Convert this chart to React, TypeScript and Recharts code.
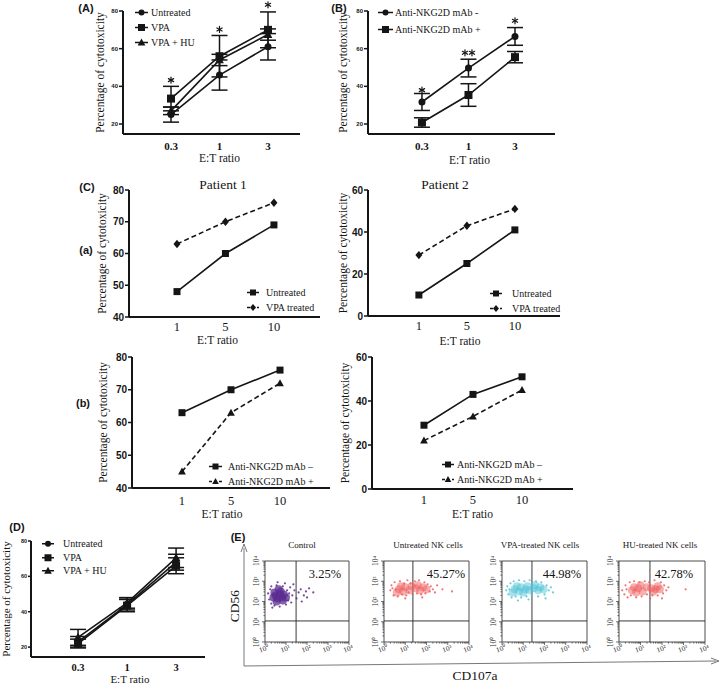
import React from 'react';
import {
  LineChart,
  Line,
  XAxis,
  YAxis,
  ErrorBar,
  Legend,
  ReferenceDot,
  ScatterChart,
  Scatter,
  ReferenceLine,
  ReferenceArea,
} from 'recharts';

const SERIF = '"Liberation Serif", "Times New Roman", serif';
const SANS = '"Liberation Sans", Arial, sans-serif';
const INK = '#151515';

// ---- categories ----
const ratiosLow = ['0.3', '1', '3'];
const ratiosHigh = ['1', '5', '10'];

// ---- (A) mean / SD ----
const aUntreated = [25, 46, 61];
const aUntreatedSd = [4, 8, 7];
const aVpa = [33.5, 56, 70];
const aVpaSd = [6.5, 11, 9.5];
const aVpaHu = [27, 54, 67.5];
const aVpaHuSd = [2, 3, 3];
const aStars = [1, 1, 1];
const aStarLevel = [43.3, 70.2, 83.3];

// ---- (B) ----
const bMabMinus = [31.7, 49.7, 66.5];
const bMabMinusSd = [4.5, 4.7, 4.7];
const bMabPlus = [20.8, 35.4, 55.5];
const bMabPlusSd = [2.5, 6, 3];
const bStars = [1, 2, 1];
const bStarLevel = [38, 57.8, 74.8];

// ---- (C) a ----
const p1Untreated = [48, 60, 69];
const p1Vpa = [63, 70, 76];
const p2Untreated = [10, 25, 41];
const p2Vpa = [29, 43, 51];
// ---- (C) b ----
const p1MabMinus = [63, 70, 76];
const p1MabPlus = [45, 63, 72];
const p2MabMinus = [29, 43, 51];
const p2MabPlus = [22, 33, 45];

// ---- (D) ----
const dUntreated = [23, 44, 68];
const dUntreatedSd = [3, 3, 4.5];
const dVpa = [22, 43.5, 66];
const dVpaSd = [2.5, 3.5, 4.5];
const dVpaHu = [25.5, 45, 70.5];
const dVpaHuSd = [4.5, 3, 5.5];

// ---- (E) flow cytometry, log10 units ----
const decadeLabels = ['10⁰', '10¹', '10²', '10³', '10⁴'];
const flowTitles = ['Control', 'Untreated NK cells', 'VPA-treated NK cells', 'HU-treated NK cells'];
const flowPercent = ['3.25%', '45.27%', '44.98%', '42.78%'];
const flowGateX = [1.48, 1.36, 1.41, 1.44];
const flowGateY = 1.04;
const flowColors = ['#5b2c90', '#ef5d5d', '#4fc4d8', '#ef5d5d'];

const controlCore = [
  [0.5, 2.3], [0.7, 2.35], [0.6, 2.15], [0.8, 2.2], [0.45, 2.45], [0.75, 2.5],
  [0.9, 2.35], [0.55, 2.0], [0.85, 2.05], [0.4, 2.2], [1.0, 2.2], [0.65, 2.6],
];
const controlSpread = [
  [0.15, 2.4], [0.2, 2.1], [0.25, 2.6], [0.3, 1.9], [0.3, 2.75], [0.45, 1.8], [0.55, 2.8],
  [0.7, 1.75], [0.85, 2.75], [1.0, 1.85], [1.05, 2.55], [1.1, 2.05], [1.15, 2.4], [1.2, 2.7],
  [1.25, 1.95], [1.3, 2.3], [1.4, 2.55], [1.5, 2.15], [1.6, 2.45], [1.7, 2.6], [1.85, 2.3],
  [1.95, 2.5], [2.1, 2.65], [2.3, 2.45], [0.95, 2.9], [0.6, 2.95], [0.35, 1.7], [1.35, 2.85],
  [1.75, 2.0], [2.0, 2.2],
];
const untreatedCore = [
  [0.7, 2.6], [0.9, 2.5], [1.0, 2.7], [0.8, 2.75], [1.2, 2.55], [1.5, 2.65],
  [1.7, 2.55], [1.85, 2.7], [1.6, 2.8], [2.0, 2.6], [1.3, 2.75], [0.6, 2.45],
];
const untreatedSpread = [
  [0.3, 2.55], [0.35, 2.8], [0.45, 2.3], [0.5, 2.95], [0.55, 2.6], [0.65, 2.25], [0.75, 3.0],
  [0.85, 2.35], [0.95, 2.9], [1.05, 2.3], [1.1, 3.05], [1.15, 2.45], [1.25, 2.9], [1.35, 2.35],
  [1.45, 3.0], [1.55, 2.4], [1.65, 3.05], [1.75, 2.35], [1.9, 2.95], [1.95, 2.4], [2.05, 2.85],
  [2.15, 2.5], [2.2, 2.75], [2.3, 2.6], [2.4, 2.45], [2.5, 2.8], [0.4, 2.65], [1.0, 2.15],
  [1.8, 2.2], [2.75, 2.6], [3.2, 2.5],
];
const vpaCore = [
  [0.6, 2.6], [0.8, 2.5], [0.9, 2.7], [0.7, 2.75], [1.1, 2.6], [1.3, 2.55], [1.5, 2.65],
  [1.7, 2.55], [1.8, 2.7], [1.55, 2.8], [1.95, 2.6], [0.5, 2.45], [1.2, 2.75], [1.0, 2.45],
];
const vpaSpread = [
  [0.2, 2.55], [0.25, 2.75], [0.3, 2.35], [0.4, 2.9], [0.45, 2.2], [0.55, 3.0], [0.65, 2.25],
  [0.8, 3.05], [0.9, 2.2], [1.05, 3.0], [1.15, 2.25], [1.3, 3.05], [1.4, 2.3], [1.6, 3.0],
  [1.7, 2.25], [1.85, 2.95], [2.0, 2.35], [2.1, 2.8], [2.2, 2.55], [2.3, 2.7], [2.4, 2.45],
  [0.35, 2.6], [1.25, 2.1], [2.05, 2.15], [0.75, 2.05],
];
const huCore = [
  [0.6, 2.55], [0.8, 2.45], [0.9, 2.65], [0.7, 2.7], [1.1, 2.5], [1.5, 2.65],
  [1.7, 2.6], [1.8, 2.75], [1.6, 2.5], [1.9, 2.6], [1.3, 2.7], [1.0, 2.8],
];
const huSpread = [
  [0.15, 2.55], [0.25, 2.35], [0.3, 2.8], [0.4, 2.2], [0.5, 2.95], [0.55, 2.3], [0.7, 3.0],
  [0.8, 2.2], [0.95, 2.95], [1.05, 2.25], [1.2, 3.0], [1.3, 2.35], [1.4, 2.95], [1.55, 2.3],
  [1.65, 3.05], [1.8, 2.3], [1.95, 2.95], [2.05, 2.4], [2.1, 2.8], [2.2, 2.55], [2.3, 2.7],
  [0.35, 2.6], [1.45, 2.15], [2.0, 2.15], [3.1, 2.6],
];
const flowCores = [controlCore, untreatedCore, vpaCore, huCore];
const flowSpreads = [controlSpread, untreatedSpread, vpaSpread, huSpread];

type Row = Record<string, number>;
const table = (n: number, cols: Record<string, number[]>): Row[] =>
  Array.from({ length: n }, (_, i) => {
    const row: Row = { x: i };
    Object.keys(cols).forEach((k) => {
      row[k] = cols[k][i];
    });
    return row;
  });
const pts = (arr: number[][]) => arr.map(([x, y]) => ({ x, y }));
const stars = (levels: number[], counts: number[]) => levels.map((y, i) => ({ x: i, y, n: counts[i] }));

type Shape = 'circle' | 'square' | 'triangle' | 'diamond';

const Marker = ({ cx, cy, shape, size }: { cx: number; cy: number; shape: Shape; size: number }) => {
  const h = size / 2;
  if (shape === 'circle') return <circle cx={cx} cy={cy} r={h} fill={INK} />;
  if (shape === 'square') return <rect x={cx - h} y={cy - h} width={size} height={size} fill={INK} />;
  if (shape === 'triangle')
    return (
      <polygon
        points={`${cx},${cy - h * 1.15} ${cx + h * 1.1},${cy + h * 0.85} ${cx - h * 1.1},${cy + h * 0.85}`}
        fill={INK}
      />
    );
  return <polygon points={`${cx},${cy - h * 1.2} ${cx + h},${cy} ${cx},${cy + h * 1.2} ${cx - h},${cy}`} fill={INK} />;
};

const dotOf = (shape: Shape, size: number) => (p: any) =>
  <Marker key={`dot-${p.index}`} cx={p.cx} cy={p.cy} shape={shape} size={size} />;

// small asterisk drawn from strokes so it stays black
const Asterisk = ({ cx, cy }: { cx: number; cy: number }) => (
  <g stroke={INK} strokeWidth={1.2} strokeLinecap="round">
    <line x1={cx} y1={cy - 3} x2={cx} y2={cy + 3} />
    <line x1={cx - 2.6} y1={cy - 1.5} x2={cx + 2.6} y2={cy + 1.5} />
    <line x1={cx - 2.6} y1={cy + 1.5} x2={cx + 2.6} y2={cy - 1.5} />
  </g>
);

interface SeriesDef {
  key: string;
  sd?: string;
  name: string;
  shape: Shape;
  size: number;
  dashed?: boolean;
}

const LegendBox = ({ items, row, font, symW, gap }: { items: SeriesDef[]; row: number; font: number; symW: number; gap: number }) => (
  <div style={{ fontFamily: SERIF, fontSize: font, color: INK }}>
    {items.map((it) => (
      <div key={it.name} style={{ display: 'flex', alignItems: 'center', height: row, whiteSpace: 'nowrap' }}>
        <svg width={symW} height={row} style={{ flex: 'none' }}>
          <line
            x1={0}
            x2={symW}
            y1={row / 2}
            y2={row / 2}
            stroke={INK}
            strokeWidth={1.5}
            strokeDasharray={it.dashed ? '3 2' : undefined}
          />
          <Marker cx={symW / 2} cy={row / 2} shape={it.shape} size={it.size - 1} />
        </svg>
        <span style={{ marginLeft: gap }}>{it.name}</span>
      </div>
    ))}
  </div>
);

interface PanelProps {
  box: number[];
  xDomain: number[];
  yDomain: number[];
  yTicks: number[];
  cats: string[];
  data: Row[];
  series: SeriesDef[];
  marks?: { x: number; y: number; n: number }[];
  legendAt: number[];
  legendRow: number;
  legendSym: number;
  legendGap: number;
  yTickFont: number;
  yTickSize: number;
  xTickFont: number;
  xTickBold: boolean;
  xTickGap: number;
  labelFont: number;
  yLabelX: number;
  xLabelY: number;
  xLabelDx: number;
}

const LinePanel = (p: PanelProps) => {
  const [x0, y0, x1, y1] = p.box;
  const L = Math.min(50, x0);
  const T = Math.min(12, y0);
  const R = 8;
  const B = p.xLabelY - y1 + 4;
  const left = x0 - L;
  const top = y0 - T;
  const width = x1 - x0 + L + R;
  const height = y1 - y0 + T + B;
  const yLabX = p.yLabelX - left;
  const xLabY = p.xLabelY - top;
  return (
    <div style={{ position: 'absolute', left, top }}>
      <LineChart width={width} height={height} data={p.data} margin={{ top: T, right: R, left: 0, bottom: 0 }}>
        <XAxis
          type="number"
          dataKey="x"
          domain={p.xDomain}
          ticks={[0, 1, 2]}
          interval={0}
          tickFormatter={(v: number) => p.cats[v]}
          tickLine={false}
          tickSize={0}
          tickMargin={p.xTickGap}
          height={B}
          axisLine={{ stroke: INK, strokeWidth: 2 }}
          tick={{ fontSize: p.xTickFont, fontWeight: p.xTickBold ? 700 : 400, fontFamily: SERIF, fill: INK }}
          label={{
            content: ({ viewBox }: any) => (
              <text
                x={viewBox.x + viewBox.width / 2 + p.xLabelDx}
                y={xLabY}
                textAnchor="middle"
                fontFamily={SERIF}
                fontSize={p.labelFont}
                fill={INK}
              >
                E:T ratio
              </text>
            ),
          }}
        />
        <YAxis
          type="number"
          domain={p.yDomain}
          ticks={p.yTicks}
          interval={0}
          width={L}
          tickSize={p.yTickSize}
          tickMargin={1}
          axisLine={{ stroke: INK, strokeWidth: 2 }}
          tickLine={{ stroke: INK, strokeWidth: 1.5 }}
          tick={{ fontSize: p.yTickFont, fontWeight: 700, fontFamily: SANS, fill: INK }}
          label={{
            content: ({ viewBox }: any) => {
              const cy = viewBox.y + viewBox.height / 2;
              return (
                <text
                  x={yLabX}
                  y={cy}
                  transform={`rotate(-90 ${yLabX} ${cy})`}
                  textAnchor="middle"
                  dominantBaseline="central"
                  fontFamily={SERIF}
                  fontSize={p.labelFont}
                  fill={INK}
                >
                  Percentage of cytotoxicity
                </text>
              );
            },
          }}
        />
        {p.series.map((s) => (
          <Line
            key={s.key}
            dataKey={s.key}
            type="linear"
            stroke={INK}
            strokeWidth={1.6}
            strokeDasharray={s.dashed ? '5 3' : undefined}
            dot={dotOf(s.shape, s.size)}
            activeDot={false}
            isAnimationActive={false}
          >
            {s.sd && <ErrorBar dataKey={s.sd} width={8} stroke={INK} strokeWidth={1.5} direction="y" />}
          </Line>
        ))}
        {(p.marks || []).map((m) => (
          <ReferenceDot
            key={`star-${m.x}`}
            x={m.x}
            y={m.y}
            r={0}
            fill="none"
            stroke="none"
            ifOverflow="visible"
            label={{
              content: ({ viewBox }: any) => (
                <g>
                  {Array.from({ length: m.n }, (_, k) => (
                    <Asterisk key={k} cx={viewBox.x + (k - (m.n - 1) / 2) * 7} cy={viewBox.y} />
                  ))}
                </g>
              ),
            }}
          />
        ))}
        <Legend
          layout="vertical"
          align="center"
          verticalAlign="middle"
          wrapperStyle={{ left: p.legendAt[0] - left, top: p.legendAt[1] - top, width: 'auto' }}
          content={() => (
            <LegendBox items={p.series} row={p.legendRow} font={10} symW={p.legendSym} gap={p.legendGap} />
          )}
        />
      </LineChart>
    </div>
  );
};

const flowTicks = [0, 1, 2, 3]
  .flatMap((d) => [1, 2, 3, 4, 5, 6, 7, 8, 9].map((k) => d + Math.log10(k)))
  .concat(4);

const FlowTick = ({ x, y, payload, axis }: any) => {
  const v = payload.value;
  const major = Math.abs(v - Math.round(v)) < 1e-6;
  const len = major ? 3 : 1.6;
  if (axis === 'x') {
    return (
      <g>
        <line x1={x} x2={x} y1={y} y2={y + len} stroke="#333" strokeWidth={0.7} />
        {major && (
          <text
            x={x}
            y={y + 9}
            transform={`rotate(-20 ${x} ${y + 9})`}
            textAnchor="middle"
            fontFamily={SERIF}
            fontSize={7.5}
            fill="#333"
          >
            {decadeLabels[Math.round(v)]}
          </text>
        )}
      </g>
    );
  }
  return (
    <g>
      <line x1={x} x2={x - len} y1={y} y2={y} stroke="#333" strokeWidth={0.7} />
      {major && (
        <text
          x={x - 6}
          y={y}
          transform={`rotate(-90 ${x - 6} ${y})`}
          textAnchor="middle"
          fontFamily={SERIF}
          fontSize={7.5}
          fill="#333"
        >
          {decadeLabels[Math.round(v)]}
        </text>
      )}
    </g>
  );
};

const FlowPanel = ({ i, box }: { i: number; box: number[] }) => {
  const [x0, y0, x1, y1] = box;
  const L = 20;
  const T = 9;
  const R = 10;
  const B = 17;
  const color = flowColors[i];
  return (
    <div style={{ position: 'absolute', left: x0 - L, top: y0 - T }}>
      <ScatterChart width={x1 - x0 + L + R} height={y1 - y0 + T + B} margin={{ top: T, right: R, left: 0, bottom: 0 }}>
        <XAxis
          type="number"
          dataKey="x"
          domain={[0, 4]}
          ticks={flowTicks}
          interval={0}
          tickLine={false}
          axisLine={false}
          tickSize={0}
          tickMargin={0}
          height={B}
          tick={(tp: any) => <FlowTick {...tp} axis="x" />}
        />
        <YAxis
          type="number"
          dataKey="y"
          domain={[0, 4]}
          ticks={flowTicks}
          interval={0}
          tickLine={false}
          axisLine={false}
          tickSize={0}
          tickMargin={0}
          width={L}
          tick={(tp: any) => <FlowTick {...tp} axis="y" />}
        />
        <ReferenceArea x1={0} x2={4} y1={0} y2={4} fill="none" stroke="#3a3a3a" strokeWidth={0.9} fillOpacity={0} />
        <Scatter
          data={pts(flowCores[i])}
          isAnimationActive={false}
          shape={(sp: any) => <circle cx={sp.cx} cy={sp.cy} r={4} fill={color} fillOpacity={i === 0 ? 0.75 : 0.5} />}
        />
        <Scatter
          data={pts(flowSpreads[i])}
          isAnimationActive={false}
          shape={(sp: any) => <circle cx={sp.cx} cy={sp.cy} r={1.1} fill={color} fillOpacity={0.85} />}
        />
        <ReferenceLine x={flowGateX[i]} stroke="#222" strokeWidth={0.9} />
        <ReferenceLine y={flowGateY} stroke="#222" strokeWidth={0.9} />
      </ScatterChart>
    </div>
  );
};

const Tag = ({ x, y, size, bold, family, rotate, children }: any) => (
  <div
    style={{
      position: 'absolute',
      left: x,
      top: y,
      transform: `translate(-50%, -50%)${rotate ? ` rotate(${rotate}deg)` : ''}`,
      fontSize: size,
      fontWeight: bold ? 700 : 400,
      fontFamily: family || SERIF,
      whiteSpace: 'nowrap',
      lineHeight: 1,
      color: INK,
    }}
  >
    {children}
  </div>
);

const dataA = table(3, {
  untreated: aUntreated,
  untreatedSd: aUntreatedSd,
  vpa: aVpa,
  vpaSd: aVpaSd,
  vpaHu: aVpaHu,
  vpaHuSd: aVpaHuSd,
});
const dataB = table(3, { minus: bMabMinus, minusSd: bMabMinusSd, plus: bMabPlus, plusSd: bMabPlusSd });
const dataCa1 = table(3, { untreated: p1Untreated, vpa: p1Vpa });
const dataCa2 = table(3, { untreated: p2Untreated, vpa: p2Vpa });
const dataCb1 = table(3, { minus: p1MabMinus, plus: p1MabPlus });
const dataCb2 = table(3, { minus: p2MabMinus, plus: p2MabPlus });
const dataD = table(3, {
  untreated: dUntreated,
  untreatedSd: dUntreatedSd,
  vpa: dVpa,
  vpaSd: dVpaSd,
  vpaHu: dVpaHu,
  vpaHuSd: dVpaHuSd,
});

const seriesTreat: SeriesDef[] = [
  { key: 'untreated', sd: 'untreatedSd', name: 'Untreated', shape: 'circle', size: 7 },
  { key: 'vpa', sd: 'vpaSd', name: 'VPA', shape: 'square', size: 8 },
  { key: 'vpaHu', sd: 'vpaHuSd', name: 'VPA + HU', shape: 'triangle', size: 8 },
];
const seriesB: SeriesDef[] = [
  { key: 'minus', sd: 'minusSd', name: 'Anti-NKG2D mAb -', shape: 'circle', size: 7 },
  { key: 'plus', sd: 'plusSd', name: 'Anti-NKG2D mAb +', shape: 'square', size: 8 },
];
const seriesCa: SeriesDef[] = [
  { key: 'untreated', name: 'Untreated', shape: 'square', size: 7 },
  { key: 'vpa', name: 'VPA treated', shape: 'diamond', size: 7, dashed: true },
];
const seriesCb: SeriesDef[] = [
  { key: 'minus', name: 'Anti-NKG2D mAb –', shape: 'square', size: 7 },
  { key: 'plus', name: 'Anti-NKG2D mAb +', shape: 'triangle', size: 7, dashed: true },
];

const flowBoxes = [
  [265, 561, 349, 642],
  [384, 561, 469, 642],
  [502, 561, 587, 642],
  [619, 561, 705, 642],
];
const flowTitleX = [302, 428, 540, 660];
const flowPercentX = [325, 446, 562, 674];

const App: React.FC = () => (
  <div
    style={{
      position: 'absolute',
      left: 0,
      top: 0,
      width: 720,
      height: 685,
      background: '#fff',
      overflow: 'hidden',
      fontFamily: SERIF,
    }}
  >
    <LinePanel
      box={[123, 11, 300, 134]}
      xDomain={[-0.99, 2.66]}
      yDomain={[14.7, 80]}
      yTicks={[20, 40, 60, 80]}
      cats={ratiosLow}
      data={dataA}
      series={seriesTreat}
      marks={stars(aStarLevel, aStars)}
      legendAt={[135, 5]}
      legendRow={15}
      legendSym={13}
      legendGap={3}
      yTickFont={6}
      yTickSize={4}
      xTickFont={11}
      xTickBold
      xTickGap={8}
      labelFont={11.5}
      yLabelX={100}
      xLabelY={162}
      xLabelDx={8}
    />
    <LinePanel
      box={[368, 11, 555, 134]}
      xDomain={[-1.16, 2.86]}
      yDomain={[14.7, 80]}
      yTicks={[20, 40, 60, 80]}
      cats={ratiosLow}
      data={dataB}
      series={seriesB}
      marks={stars(bStarLevel, bStars)}
      legendAt={[378, 4]}
      legendRow={17}
      legendSym={15}
      legendGap={2}
      yTickFont={6}
      yTickSize={4}
      xTickFont={11}
      xTickBold
      xTickGap={8.5}
      labelFont={11.5}
      yLabelX={343}
      xLabelY={164}
      xLabelDx={8}
    />
    <LinePanel
      box={[129, 190, 320, 317]}
      xDomain={[-0.99, 2.95]}
      yDomain={[40, 80]}
      yTicks={[40, 50, 60, 70, 80]}
      cats={ratiosHigh}
      data={dataCa1}
      series={seriesCa}
      legendAt={[247, 285]}
      legendRow={15}
      legendSym={12}
      legendGap={7}
      yTickFont={10}
      yTickSize={4}
      xTickFont={12.5}
      xTickBold={false}
      xTickGap={5.5}
      labelFont={11.5}
      yLabelX={102}
      xLabelY={344}
      xLabelDx={-7}
    />
    <LinePanel
      box={[368, 190, 560, 316]}
      xDomain={[-1.06, 2.94]}
      yDomain={[0, 60]}
      yTicks={[0, 20, 40, 60]}
      cats={ratiosHigh}
      data={dataCa2}
      series={seriesCa}
      legendAt={[490, 285.5]}
      legendRow={15}
      legendSym={12}
      legendGap={10}
      yTickFont={10}
      yTickSize={4}
      xTickFont={12.5}
      xTickBold={false}
      xTickGap={5.5}
      labelFont={11.5}
      yLabelX={343}
      xLabelY={345}
      xLabelDx={-4}
    />
    <LinePanel
      box={[132, 357, 330, 488]}
      xDomain={[-1.02, 3.02]}
      yDomain={[40, 80]}
      yTicks={[40, 50, 60, 70, 80]}
      cats={ratiosHigh}
      data={dataCb1}
      series={seriesCb}
      legendAt={[209, 458.5]}
      legendRow={15}
      legendSym={13}
      legendGap={6}
      yTickFont={10}
      yTickSize={4}
      xTickFont={12.5}
      xTickBold={false}
      xTickGap={8}
      labelFont={11.5}
      yLabelX={103}
      xLabelY={518}
      xLabelDx={-9}
    />
    <LinePanel
      box={[372, 357, 573, 489]}
      xDomain={[-1.06, 3.04]}
      yDomain={[0, 60]}
      yTicks={[0, 20, 40, 60]}
      cats={ratiosHigh}
      data={dataCb2}
      series={seriesCb}
      legendAt={[442, 456.5]}
      legendRow={15}
      legendSym={12}
      legendGap={3}
      yTickFont={10}
      yTickSize={4}
      xTickFont={12.5}
      xTickBold={false}
      xTickGap={6.5}
      labelFont={11.5}
      yLabelX={345}
      xLabelY={518}
      xLabelDx={0}
    />
    <LinePanel
      box={[31, 541, 205, 657]}
      xDomain={[-0.96, 2.59]}
      yDomain={[14.4, 80]}
      yTicks={[20, 40, 60, 80]}
      cats={ratiosLow}
      data={dataD}
      series={seriesTreat}
      legendAt={[42, 537]}
      legendRow={13.5}
      legendSym={12}
      legendGap={9}
      yTickFont={5.5}
      yTickSize={3}
      xTickFont={10.5}
      xTickBold
      xTickGap={7}
      labelFont={11}
      yLabelX={6}
      xLabelY={683}
      xLabelDx={12}
    />

    {flowBoxes.map((b, i) => (
      <FlowPanel key={flowTitles[i]} i={i} box={b} />
    ))}
    {flowTitles.map((t, i) => (
      <Tag key={t} x={flowTitleX[i]} y={545} size={9}>
        {t}
      </Tag>
    ))}
    {flowPercent.map((t, i) => (
      <Tag key={t} x={flowPercentX[i]} y={574} size={12.5}>
        {t}
      </Tag>
    ))}
    <svg width={720} height={685} style={{ position: 'absolute', left: 0, top: 0, pointerEvents: 'none' }}>
      <line x1={244} y1={548} x2={244} y2={666} stroke="#555" strokeWidth={0.8} />
      <polyline points="241,552 244,544 247,552" fill="none" stroke="#555" strokeWidth={0.8} />
      <line x1={244} y1={666} x2={716} y2={661} stroke="#555" strokeWidth={0.8} />
      <polyline points="711,658 719,661 711,664" fill="none" stroke="#555" strokeWidth={0.8} />
    </svg>
    <Tag x={235} y={606} size={13.5} rotate={-90}>
      CD56
    </Tag>
    <Tag x={475} y={676} size={13.5}>
      CD107a
    </Tag>

    <Tag x={86} y={8} size={11} bold family={SANS}>(A)</Tag>
    <Tag x={339} y={8} size={11} bold family={SANS}>(B)</Tag>
    <Tag x={87} y={187} size={11} bold family={SANS}>(C)</Tag>
    <Tag x={86} y={250} size={11} bold family={SANS}>(a)</Tag>
    <Tag x={83} y={403} size={11} bold family={SANS}>(b)</Tag>
    <Tag x={17} y={527} size={11} bold family={SANS}>(D)</Tag>
    <Tag x={238} y={537} size={11} bold family={SANS}>(E)</Tag>
    <Tag x={223} y={185} size={13.5}>Patient 1</Tag>
    <Tag x={445} y={185} size={13.5}>Patient 2</Tag>
  </div>
);

export default App;
